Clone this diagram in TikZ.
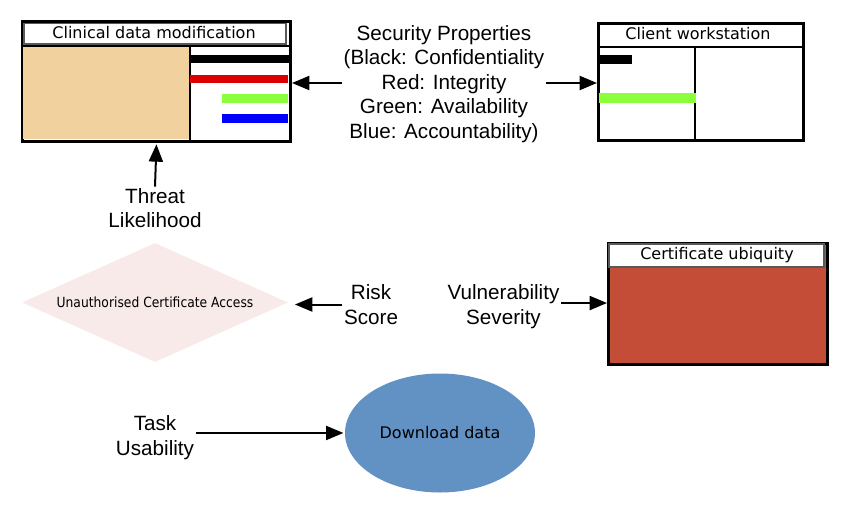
\documentclass[tikz,border=0pt]{standalone}
\usepackage{fontspec}
\setmainfont{Liberation Sans}
\newfontfamily\dejavu{DejaVu Sans}
\newfontfamily\dejavucond[FakeStretch=0.88]{DejaVu Sans}
\usetikzlibrary{arrows.meta,shapes.geometric}
\definecolor{tanc}{HTML}{F1D19E}
\definecolor{redc}{HTML}{C44D37}
\definecolor{bluec}{HTML}{6291C3}
\definecolor{pinkc}{HTML}{F9EAEA}
\definecolor{barred}{HTML}{DD0000}
\definecolor{bargreen}{HTML}{8CFF3C}
\definecolor{barblue}{HTML}{0000FF}
\begin{document}
\begin{tikzpicture}[x=0.75pt,y=-0.75pt,
  box/.style={draw, line width=2.25pt, anchor=north west, inner sep=0pt, fill=white},
  lbl/.style={font=\fontsize{15.5}{18.4}\selectfont, align=center, inner sep=1pt},
  ttl/.style={font=\dejavu\fontsize{12}{14}\selectfont, inner sep=0pt},
  arr/.style={-{Triangle[length=13pt,width=10.5pt]}, line width=1.5pt},
  divider/.style={line width=1.5pt},
  bar/.style={line width=6.5pt}]
\useasboundingbox (0,0) rectangle (848,517);

% Clinical data modification
\node[box, minimum width=201pt, minimum height=90pt] (cdm) at (21,20) {};
\fill[tanc] (22.5,47) rectangle (190,138.5);
\draw[gray!70!black, line width=0.8pt] (24,23.5) rectangle (286,44);
\draw[divider] (21,46) -- (289,46);
\draw[divider] (190,46) -- (190,140);
\node[ttl] (cdmt) at (154,33) {Clinical data modification};
\draw[bar, black] (190,59) -- (289,59);
\draw[bar, barred] (190,79) -- (288,79);
\draw[bar, bargreen] (222,98.5) -- (288,98.5);
\draw[bar, barblue] (222,118.5) -- (288,118.5);

% Client workstation
\node[box, minimum width=153.75pt, minimum height=87.75pt] (cw) at (597,22) {};
\draw[divider] (597,47) -- (802,47);
\draw[divider] (695,47) -- (695,139);
\node[ttl] (cwt) at (698,34) {Client workstation};
\draw[bar, black] (599,59.5) -- (632,59.5);
\draw[bar, bargreen, line width=7.5pt] (599,98) -- (696,98);

% Certificate ubiquity
\node[box, fill=redc, minimum width=164.25pt, minimum height=90.75pt] (cu) at (607,242) {};
\draw[fill=white, draw=gray!70!black, line width=1.2pt] (609,244) rectangle (824,267);
\node[ttl] (cut) at (717,255) {Certificate ubiquity};

% Diamond
\node[diamond, fill=pinkc, minimum width=199.5pt, minimum height=89.25pt, aspect=2.235,
  inner sep=0pt, font=\dejavucond\fontsize{10.5}{12}\selectfont] (uca) at (155,302.5)
  {Unauthorised Certificate Access};

% Ellipse
\node[ellipse, fill=bluec, minimum width=142.5pt, minimum height=89.25pt, inner sep=0pt,
  font=\dejavu\fontsize{12}{14}\selectfont] (dd) at (440,433) {Download data};

% Labels
\node[lbl] (sec) at (444,84) {Security Properties\\(Black: Confidentiality\\Red: Integrity\\Green: Availability\\Blue: Accountability)};
\node[lbl] (thr) at (155,208) {Threat\\Likelihood};
\node[lbl] (risk) at (371,304.5) {Risk\\Score};
\node[lbl] (vul) at (503.5,306.5) {Vulnerability\\Severity};
\node[lbl] (task) at (155,437.5) {Task\\Usability};

% Connectors
\draw[arr] ([yshift=0.75pt]sec.west) -- ([yshift=0.75pt]sec.west -| cdm.east);
\draw[arr] ([yshift=0.75pt]sec.east) -- ([yshift=0.75pt]sec.east -| cw.west);
\draw[arr, shorten >=1pt] (thr.north) -- (cdm.south);
\draw[arr, shorten >=5pt] (risk.west) -- (risk.west -| uca.east);
\draw[arr] ([yshift=2.6pt]vul.east) -- ([yshift=2.6pt]vul.east -| cu.west);
\draw[arr, shorten >=1pt] ([yshift=3.4pt]task.east) -- ([yshift=3.4pt]task.east -| dd.west);
\end{tikzpicture}
\end{document}
